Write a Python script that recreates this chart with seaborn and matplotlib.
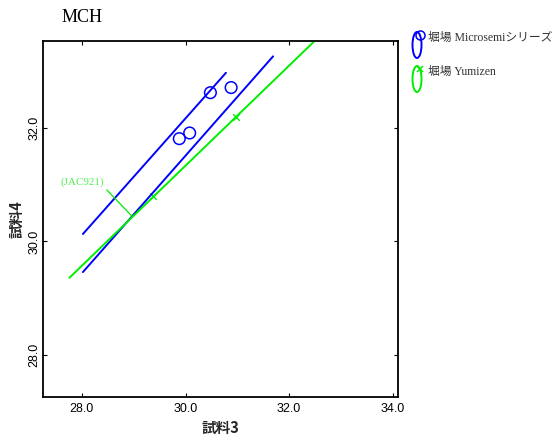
import matplotlib
matplotlib.use("Agg")
import matplotlib.pyplot as plt
import seaborn as sns
import pandas as pd
from matplotlib.patches import Ellipse
from matplotlib.lines import Line2D

# ---- data ----
micro_x = [29.88, 30.08, 30.48, 30.88]
micro_y = [31.81, 31.91, 32.62, 32.71]
yumi_x = [29.38, 30.98]
yumi_y = [30.80, 32.19]
# boundary lines (endpoints)
micro_upper_x = [28.02, 30.78]
micro_upper_y = [30.13, 32.97]
micro_lower_x = [28.02, 31.69]
micro_lower_y = [29.46, 33.26]
yumi_line_x = [27.76, 32.48]
yumi_line_y = [29.36, 33.52]
xticks = [28.0, 30.0, 32.0, 34.0]
yticks = [28.0, 30.0, 32.0]
title = "MCH"
xlabel = "試料3"
ylabel = "試料4"
legend_labels = ["堀場 Microsemiシリーズ", "堀場 Yumizen"]
annot_text = "(JAC921)"

BLUE = "#0000ff"
GREEN = "#00ee00"

sns.set_style("white")
plt.rcParams["font.family"] = ["Liberation Sans", "Noto Sans CJK JP"]

fig = plt.figure(figsize=(5.53, 4.41), dpi=100)
ax = fig.add_axes([43 / 553, 44 / 441, 355 / 553, 356 / 441])

for lx, ly, c in [(micro_upper_x, micro_upper_y, BLUE),
                  (micro_lower_x, micro_lower_y, BLUE),
                  (yumi_line_x, yumi_line_y, GREEN)]:
    sns.lineplot(x=lx, y=ly, ax=ax, color=c, lw=1.4, sort=False, estimator=None)

sns.scatterplot(x=micro_x, y=micro_y, ax=ax, marker="o", s=70,
                facecolor="none", edgecolor=BLUE, linewidth=1.1)
sns.scatterplot(x=yumi_x, y=yumi_y, ax=ax, marker="x", s=22,
                color=GREEN, linewidth=1.0)

ax.set_xlim(27.25, 34.1)
ax.set_ylim(27.26, 33.53)
ax.set_xticks(xticks)
ax.set_yticks(yticks)
ax.set_xticklabels([f"{v:.1f}" for v in xticks], fontsize=9)
ax.set_yticklabels([f"{v:.1f}" for v in yticks], fontsize=9, rotation=90, va="center")
ax.tick_params(direction="in", length=3, width=0.8, top=True, right=True,
               bottom=True, left=True, pad=4, colors="black")
ax.tick_params(axis="y", pad=2)
for sp in ax.spines.values():
    sp.set_color("black")
    sp.set_linewidth(1.3)

ax.set_xlabel(xlabel, fontsize=10.5, fontweight="bold",
              family=["Noto Sans CJK JP"], labelpad=4)
ax.set_ylabel(ylabel, fontsize=10.5, fontweight="bold",
              family=["Noto Sans CJK JP"], labelpad=3)

# annotation
ax.annotate(annot_text, xy=(28.96, 30.45), xytext=(28.0, 31.05),
            fontsize=8, color="#55ee55", family=["Liberation Serif"],
            ha="center", va="center",
            arrowprops=dict(arrowstyle="-", color=GREEN, lw=0.9,
                            shrinkA=0, shrinkB=0, relpos=(1.0, 0.0)))

fig.text(62 / 553, 1 - 17 / 441, title, fontsize=13, family=["Liberation Serif"],
         ha="left", va="center", color="black")

# legend drawn manually at the right
W, H = 553, 441
for (cy, col, mk, label) in [(45, BLUE, "o", legend_labels[0]),
                             (79, GREEN, "x", legend_labels[1])]:
    e = Ellipse((417 / W, 1 - cy / H), 9 / W, 26 / H, transform=fig.transFigure,
                fill=False, edgecolor=col, lw=1.4)
    fig.add_artist(e)
    fig.add_artist(Line2D([420 / W], [1 - (cy - 10) / H], marker=mk,
                          markersize=6.5 if mk == "o" else 4.5,
                          markerfacecolor="none", markeredgecolor=col,
                          markeredgewidth=1.1, transform=fig.transFigure))
    fig.text(428 / W, 1 - (cy - 7) / H, label, fontsize=8.5,
             family=["Liberation Serif", "Noto Sans CJK JP"],
             color="#333333", ha="left", va="center")

fig.savefig("out.png", dpi=100)
